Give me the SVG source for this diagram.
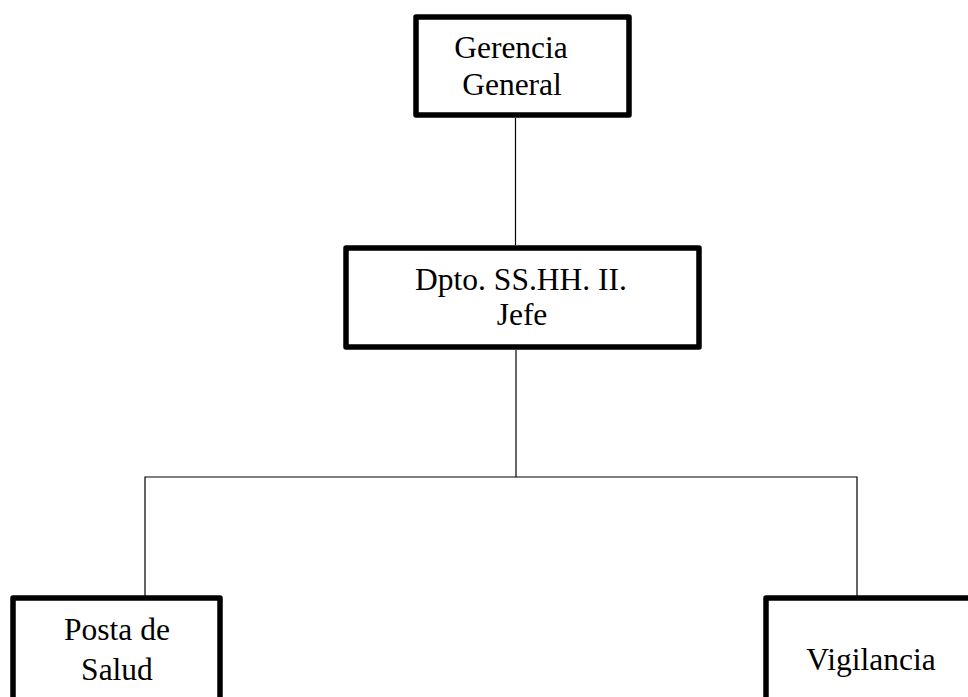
<svg xmlns="http://www.w3.org/2000/svg" width="968" height="697" viewBox="0 0 968 697">
<style>
.box{fill:#fff;stroke:#000;stroke-width:5.5;stroke-linejoin:round}
.t{font-family:"Liberation Serif","Times New Roman",serif;font-size:31.5px;fill:#000;text-anchor:middle}
.c{stroke:#000;stroke-width:1.2;fill:none}
</style>
<rect width="968" height="697" fill="#fff"/>
<g id="connectors">
<line class="c" x1="515.5" y1="118" x2="515.5" y2="245"/>
<line class="c" x1="516" y1="350" x2="516" y2="477"/>
<polyline class="c" points="145,597 145,477 857,477 857,597"/>
</g>
<g id="gerencia">
<rect class="box" x="416" y="17" width="213" height="98"/>
<text class="t" x="511" y="58">Gerencia</text>
<text class="t" x="512" y="95">General</text>
</g>
<g id="dpto">
<rect class="box" x="346" y="248" width="353" height="99"/>
<text class="t" x="521" y="290">Dpto. SS.HH. II.</text>
<text class="t" x="522" y="325">Jefe</text>
</g>
<g id="posta">
<rect class="box" x="13" y="598" width="207" height="130"/>
<text class="t" x="117" y="640">Posta de</text>
<text class="t" x="117" y="680">Salud</text>
</g>
<g id="vigilancia">
<rect class="box" x="766" y="598" width="230" height="130"/>
<text class="t" x="871" y="670">Vigilancia</text>
</g>
</svg>
